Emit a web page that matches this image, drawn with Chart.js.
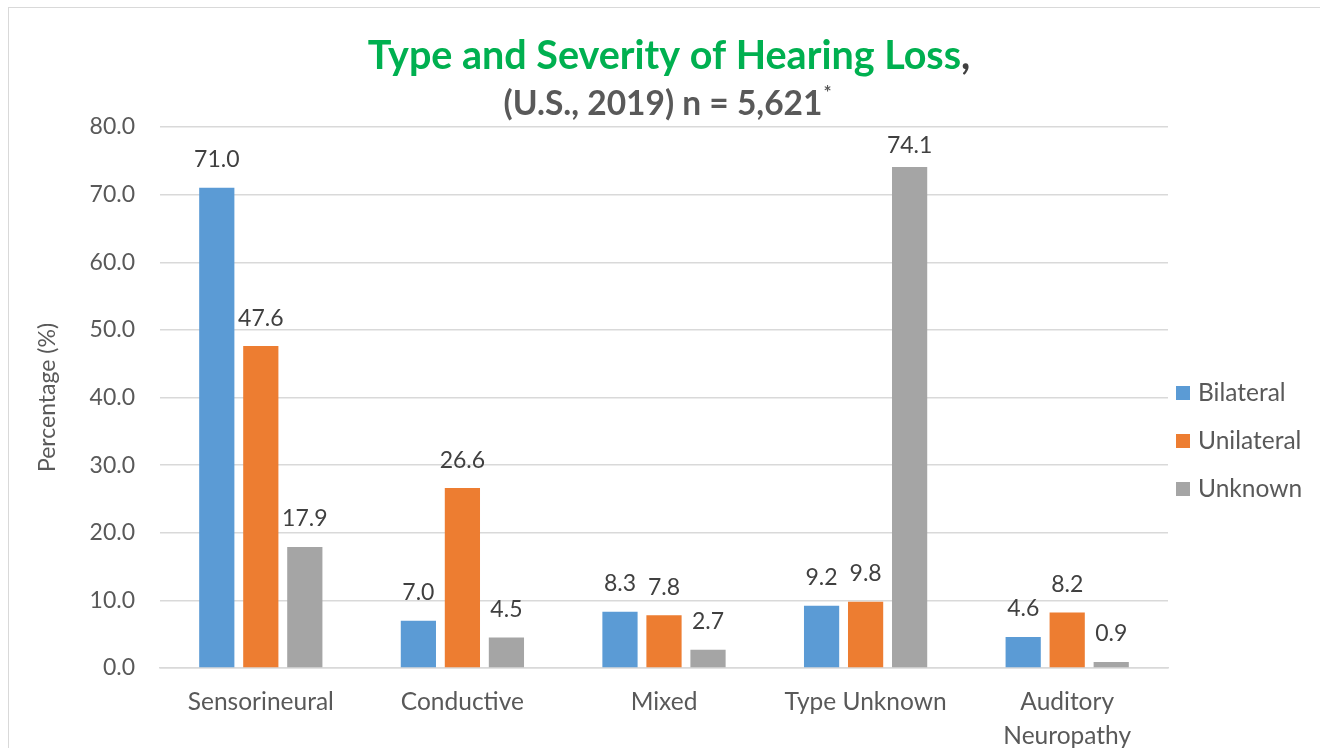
<!DOCTYPE html>
<html><head><meta charset="utf-8">
<script src="https://cdn.jsdelivr.net/npm/chart.js@4.4.1/dist/chart.umd.min.js"></script>
<style>html,body{margin:0;padding:0;background:#fff}#wrap{width:1320px;height:748px}</style>
</head><body><div id="wrap"><canvas id="c" width="1320" height="748"></canvas></div>
<script>
const categories = ['Sensorineural', 'Conductive', 'Mixed', 'Type Unknown', ['Auditory', 'Neuropathy']];
const seriesNames = ['Bilateral', 'Unilateral', 'Unknown'];
const bilateral = [71.0, 7.0, 8.3, 9.2, 4.6];
const unilateral = [47.6, 26.6, 7.8, 9.8, 8.2];
const unknown = [17.9, 4.5, 2.7, 74.1, 0.9];
const yTicks = [0, 10, 20, 30, 40, 50, 60, 70, 80];
const colors = ['#5B9BD5', '#ED7D31', '#A5A5A5'];
const FONT = 'Lato, "Liberation Sans", sans-serif';

const decor = {
  id: 'decor',
  beforeDraw(chart) {
    const ctx = chart.ctx;
    ctx.save();
    ctx.strokeStyle = '#D9D9D9';
    ctx.lineWidth = 1;
    ctx.strokeRect(8.5, 7.5, 1400, 800);
    ctx.restore();
  },
  afterDraw(chart) {
    const ctx = chart.ctx;
    ctx.save();
    // title
    const cx = 669;
    ctx.textBaseline = 'middle';
    ctx.font = 'bold 39.5px ' + FONT;
    const t1 = 'Type and Severity of Hearing Loss';
    const w1 = ctx.measureText(t1).width;
    const wc = ctx.measureText(',').width;
    let x0 = cx - (w1 + wc) / 2;
    ctx.textAlign = 'left';
    ctx.fillStyle = '#00B050';
    ctx.fillText(t1, x0, 56);
    ctx.fillStyle = '#404040';
    ctx.fillText(',', x0 + w1, 56);
    ctx.font = 'bold 33.5px ' + FONT;
    const t2 = '(U.S., 2019) n = 5,621';
    const w2 = ctx.measureText(t2).width;
    ctx.font = 'bold 19px ' + FONT;
    const wa = ctx.measureText('*').width;
    x0 = 667 - (w2 + wa) / 2;
    ctx.font = 'bold 33.5px ' + FONT;
    ctx.fillStyle = '#595959';
    ctx.fillText(t2, x0, 104);
    ctx.font = 'bold 19px ' + FONT;
    ctx.fillText('*', x0 + w2 + 1, 93);

    // data labels
    ctx.font = '23px ' + FONT;
    ctx.fillStyle = '#404040';
    ctx.textAlign = 'center';
    const minY = chart.chartArea.top + 19;
    chart.data.datasets.forEach((ds, i) => {
      const meta = chart.getDatasetMeta(i);
      meta.data.forEach((bar, j) => {
        ctx.fillText(ds.data[j].toFixed(1), bar.x, Math.max(bar.y - 28, minY));
      });
    });

    // legend
    ctx.textAlign = 'left';
    ctx.font = '24.5px ' + FONT;
    chart.data.datasets.forEach((ds, i) => {
      const y = 393 + i * 48;
      ctx.fillStyle = ds.backgroundColor;
      ctx.fillRect(1176, y - 7, 14, 14);
      ctx.fillStyle = '#595959';
      ctx.fillText(ds.label, 1198, y);
    });
    ctx.restore();
  }
};

new Chart(document.getElementById('c'), {
  type: 'bar',
  data: {
    labels: categories,
    datasets: [
      { label: seriesNames[0], data: bilateral, backgroundColor: colors[0] },
      { label: seriesNames[1], data: unilateral, backgroundColor: colors[1] },
      { label: seriesNames[2], data: unknown, backgroundColor: colors[2] }
    ]
  },
  options: {
    responsive: false,
    animation: false,
    layout: { padding: { left: 8, right: 152, top: 127, bottom: 0 } },
    datasets: { bar: { categoryPercentage: 0.655, barPercentage: 0.8 } },
    plugins: { legend: { display: false }, title: { display: false }, tooltip: { enabled: false } },
    scales: {
      x: {
        grid: { display: false, drawTicks: false },
        border: { display: true, color: '#D9D9D9', width: 1.5 },
        ticks: { color: '#595959', font: { family: FONT, size: 24.5, lineHeight: 1.38 }, padding: 17, maxRotation: 0, autoSkip: false },
        afterFit(s) { s.height = 80; }
      },
      y: {
        min: 0, max: 80,
        afterBuildTicks(s) { s.ticks = yTicks.map(v => ({ value: v })); },
        grid: { color: '#D9D9D9', lineWidth: 1.5, drawTicks: false },
        border: { display: false },
        ticks: { color: '#595959', font: { family: FONT, size: 23 }, padding: 25, callback: v => Number(v).toFixed(1) },
        title: { display: true, text: 'Percentage (%)', color: '#595959', font: { family: FONT, size: 23 }, padding: { top: 26, bottom: 0 } },
        afterFit(s) { s.width = 152; }
      }
    }
  },
  plugins: [decor]
});
</script></body></html>
